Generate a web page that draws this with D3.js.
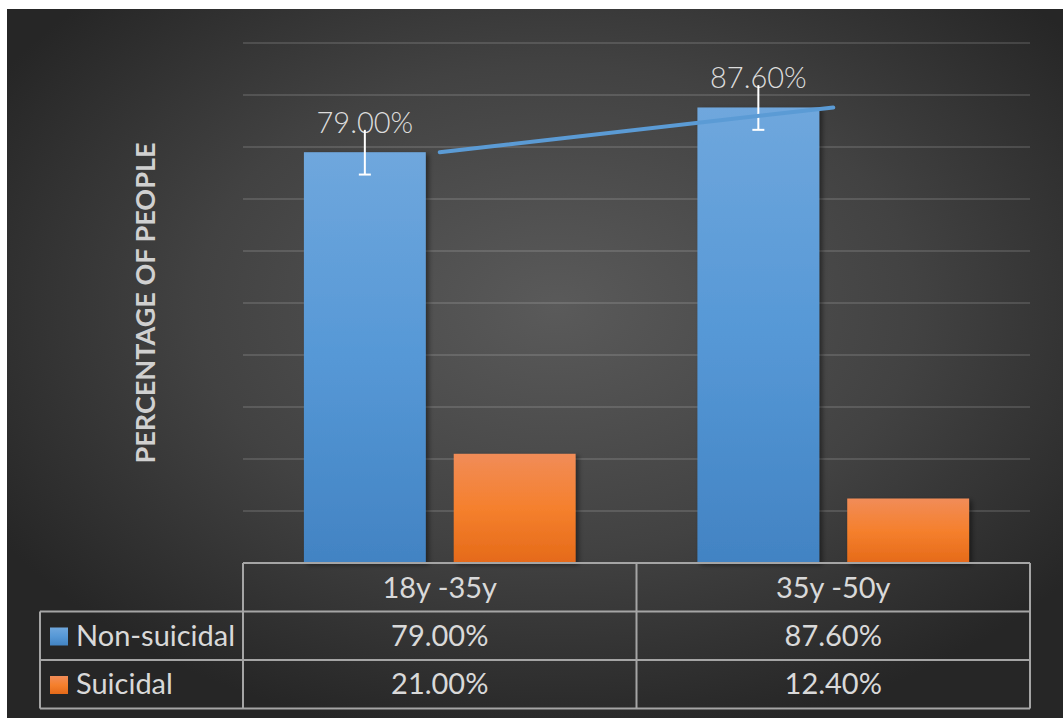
<!DOCTYPE html>
<html>
<head>
<meta charset="utf-8">
<script src="https://cdn.jsdelivr.net/npm/d3@7"></script>
<style>
  html, body { margin: 0; padding: 0; background: #ffffff; }
  svg { display: block; }
</style>
</head>
<body>
<svg id="chart" width="1063" height="718"></svg>
<script>
// ---- Data ----
const categories = ["18y -35y", "35y -50y"];
const seriesNames = ["Non-suicidal", "Suicidal"];
const nonSuicidal = [79.0, 87.6];
const suicidal = [21.0, 12.4];
const errorValues = [4.3, 4.3];
const yTicks = [10, 20, 30, 40, 50, 60, 70, 80, 90, 100];
const yTitle = "PERCENTAGE OF PEOPLE";

const seriesValues = [nonSuicidal, suicidal];
const fmt = v => v.toFixed(2) + "%";

// ---- Layout ----
const W = 1063, H = 718;
const plot = { left: 243, right: 1030, top: 43, bottom: 563 };
const rowH = 48.5;
const legendLeft = 40;
const FONT = "Lato, 'Open Sans', 'DejaVu Sans', sans-serif";

const svg = d3.select("#chart");
const defs = svg.append("defs");

// background gradient
const bg = defs.append("radialGradient").attr("id", "bg")
  .attr("cx", "52%").attr("cy", "42%").attr("r", "62%");
bg.append("stop").attr("offset", "0%").attr("stop-color", "#5a5a5a");
bg.append("stop").attr("offset", "55%").attr("stop-color", "#424242");
bg.append("stop").attr("offset", "100%").attr("stop-color", "#262626");

const gBlue = defs.append("linearGradient").attr("id", "gBlue")
  .attr("x1", 0).attr("y1", 0).attr("x2", 0).attr("y2", 1);
gBlue.append("stop").attr("offset", "0%").attr("stop-color", "#6fa7dd");
gBlue.append("stop").attr("offset", "50%").attr("stop-color", "#5698d6");
gBlue.append("stop").attr("offset", "100%").attr("stop-color", "#4283c3");

const gOrange = defs.append("linearGradient").attr("id", "gOrange")
  .attr("x1", 0).attr("y1", 0).attr("x2", 0).attr("y2", 1);
gOrange.append("stop").attr("offset", "0%").attr("stop-color", "#f18c58");
gOrange.append("stop").attr("offset", "50%").attr("stop-color", "#f5802d");
gOrange.append("stop").attr("offset", "100%").attr("stop-color", "#e56a19");

const fills = ["url(#gBlue)", "url(#gOrange)"];
const swatch = ["url(#gBlue)", "url(#gOrange)"];

const shadow = defs.append("filter").attr("id", "shadow")
  .attr("x", "-10%").attr("y", "-10%").attr("width", "130%").attr("height", "130%");
shadow.append("feDropShadow").attr("dx", 3).attr("dy", 2).attr("stdDeviation", 2.5)
  .attr("flood-color", "#000").attr("flood-opacity", 0.45);

svg.append("rect").attr("x", 7).attr("y", 9).attr("width", W - 7).attr("height", H - 9)
  .attr("fill", "url(#bg)");

// ---- Scales ----
const x = d3.scaleBand().domain(categories).range([plot.left, plot.right])
  .paddingInner(0).paddingOuter(0);
const xs = d3.scaleBand().domain(seriesNames).range([0, x.bandwidth()])
  .paddingInner(28 / 150).paddingOuter(61 / 150);
const y = d3.scaleLinear().domain([0, 100]).range([plot.bottom, plot.top]);

// gridlines
svg.append("g").selectAll("line").data(yTicks).join("line")
  .attr("x1", plot.left).attr("x2", plot.right)
  .attr("y1", d => y(d)).attr("y2", d => y(d))
  .attr("stroke", "rgba(255,255,255,0.13)").attr("stroke-width", 2);

// bars
const gBars = svg.append("g");
seriesNames.forEach((s, si) => {
  gBars.selectAll(null).data(categories).join("rect")
    .attr("x", c => x(c) + xs(s))
    .attr("width", xs.bandwidth())
    .attr("y", (c, i) => y(seriesValues[si][i]))
    .attr("height", (c, i) => y(0) - y(seriesValues[si][i]))
    .attr("fill", fills[si])
    .attr("filter", "url(#shadow)");
});

// data labels (Non-suicidal)
svg.append("g").selectAll("text").data(categories).join("text")
  .attr("x", c => x(c) + xs(seriesNames[0]) + xs.bandwidth() / 2)
  .attr("y", (c, i) => y(nonSuicidal[i]) - 19)
  .attr("text-anchor", "middle")
  .attr("font-family", FONT).attr("font-weight", 300).attr("font-size", 29)
  .attr("fill", "#dcdcdc")
  .text((c, i) => fmt(nonSuicidal[i]));

// error bars
const gErr = svg.append("g").attr("stroke", "#ffffff").attr("stroke-width", 2);
categories.forEach((c, i) => {
  const cx = x(c) + xs(seriesNames[0]) + xs.bandwidth() / 2;
  const hi = y(nonSuicidal[i] + errorValues[i]);
  const lo = y(nonSuicidal[i] - errorValues[i]);
  gErr.append("line").attr("x1", cx).attr("x2", cx).attr("y1", hi).attr("y2", lo);
  gErr.append("line").attr("x1", cx - 6).attr("x2", cx + 6).attr("y1", lo).attr("y2", lo);
});

// linear trendline through Non-suicidal at category centers
const line = d3.line().x(d => x(d.c) + x.bandwidth() / 2).y(d => y(d.v));
svg.append("path")
  .datum(categories.map((c, i) => ({ c, v: nonSuicidal[i] })))
  .attr("d", line)
  .attr("fill", "none").attr("stroke", "#5b9bd5").attr("stroke-width", 4)
  .attr("stroke-linecap", "round");

// y-axis title
svg.append("text")
  .attr("transform", `translate(155, 303) rotate(-90)`)
  .attr("text-anchor", "middle")
  .attr("font-family", FONT).attr("font-weight", 700).attr("font-size", 27)
  .attr("fill", "#d0d0d0")
  .attr("textLength", 321).attr("lengthAdjust", "spacingAndGlyphs")
  .text(yTitle);

// ---- Data table ----
const tbl = svg.append("g").attr("stroke", "#a5a5a5").attr("stroke-width", 2).attr("fill", "none");
const rows = [plot.bottom, plot.bottom + rowH, plot.bottom + 2 * rowH, plot.bottom + 3 * rowH];
tbl.append("line").attr("x1", plot.left).attr("x2", plot.right).attr("y1", rows[0]).attr("y2", rows[0]);
[rows[1], rows[2], rows[3]].forEach(ry => {
  tbl.append("line").attr("x1", legendLeft).attr("x2", plot.right).attr("y1", ry).attr("y2", ry);
});
tbl.append("line").attr("x1", legendLeft).attr("x2", legendLeft).attr("y1", rows[1]).attr("y2", rows[3]);
[plot.left, ...categories.slice(1).map(c => x(c)), plot.right].forEach(vx => {
  tbl.append("line").attr("x1", vx).attr("x2", vx).attr("y1", rows[0]).attr("y2", rows[3]);
});

const tcol = "#d9d9d9";
const TS = 29;
svg.append("g").selectAll("text").data(categories).join("text")
  .attr("x", c => x(c) + x.bandwidth() / 2)
  .attr("y", rows[0] + 35)
  .attr("text-anchor", "middle")
  .attr("font-family", FONT).attr("font-size", TS).attr("fill", tcol)
  .text(c => c);

seriesNames.forEach((s, si) => {
  const ry = rows[si + 1];
  svg.append("rect").attr("x", 50).attr("y", ry + 16).attr("width", 18).attr("height", 18)
    .attr("fill", swatch[si]);
  svg.append("text").attr("x", 76).attr("y", ry + 34)
    .attr("font-family", FONT).attr("font-size", TS).attr("fill", tcol)
    .text(s);
  svg.append("g").selectAll("text").data(categories).join("text")
    .attr("x", c => x(c) + x.bandwidth() / 2)
    .attr("y", ry + 34)
    .attr("text-anchor", "middle")
    .attr("font-family", FONT).attr("font-size", TS).attr("fill", tcol)
    .text((c, i) => fmt(seriesValues[si][i]));
});
</script>
</body>
</html>
